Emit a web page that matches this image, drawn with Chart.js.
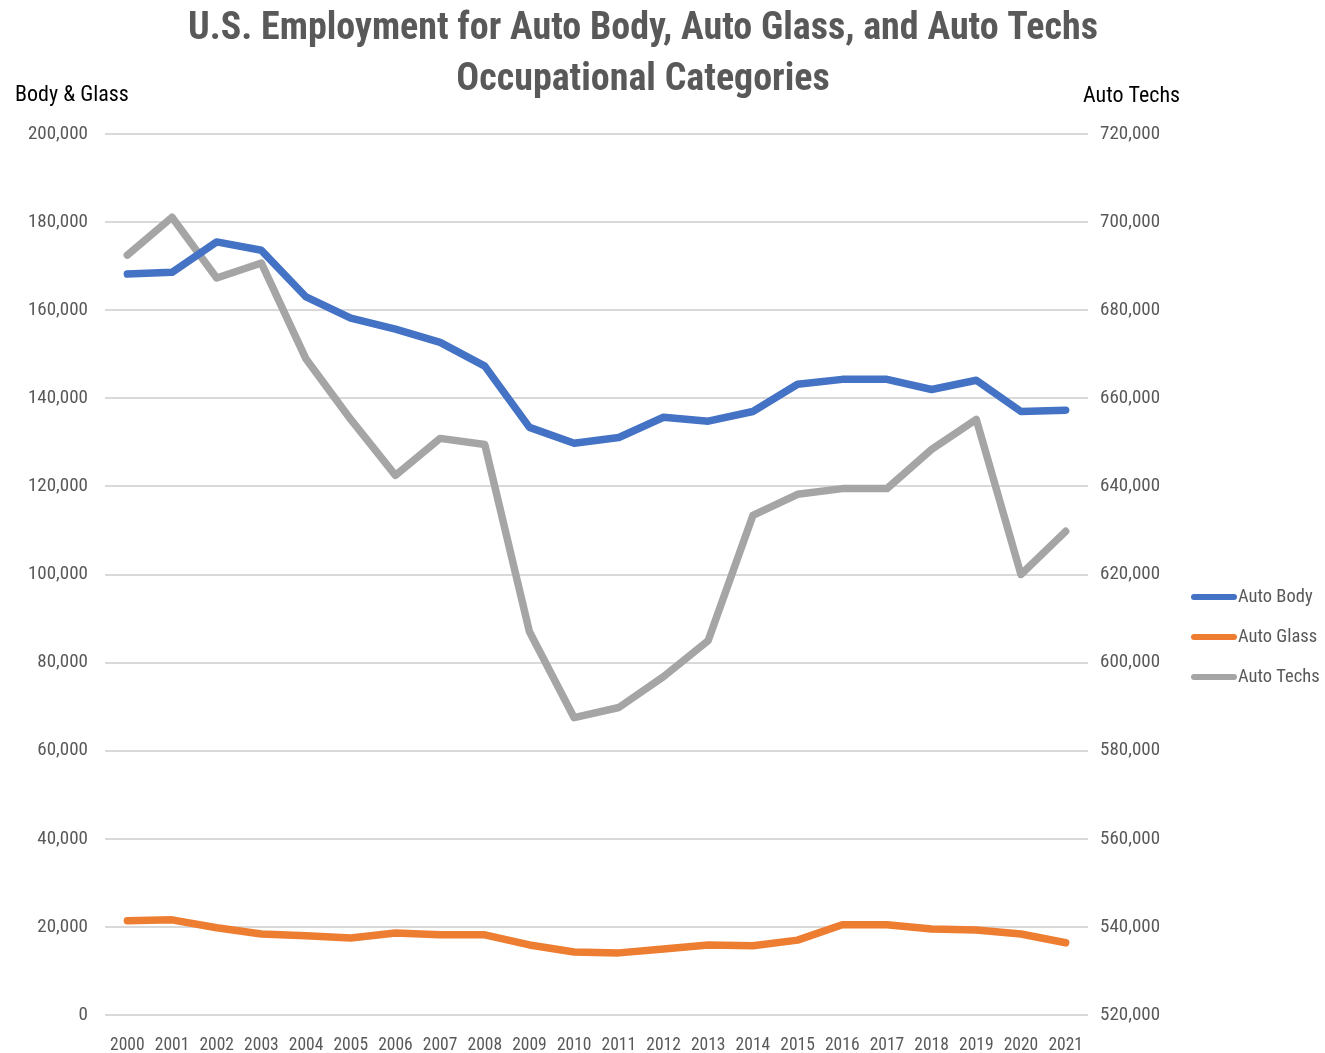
<!DOCTYPE html>
<html>
<head>
<meta charset="utf-8">
<script src="https://cdn.jsdelivr.net/npm/chart.js@4/dist/chart.umd.min.js"></script>
<style>
  html, body { margin: 0; padding: 0; background: #fff; }
  #wrap { width: 1325px; height: 1053px; position: relative; }
</style>
</head>
<body>
<div id="wrap"><canvas id="chart"></canvas></div>
<script>
const years = ['2000','2001','2002','2003','2004','2005','2006','2007','2008','2009','2010',
  '2011','2012','2013','2014','2015','2016','2017','2018','2019','2020','2021'];

// left axis (Body & Glass)
const autoBody = [168200, 168600, 175500, 173600, 163000, 158200, 155700, 152700, 147300, 133400, 129800,
  131100, 135700, 134800, 137000, 143200, 144300, 144300, 142000, 144100, 137000, 137300];
const autoGlass = [21400, 21600, 19800, 18400, 18000, 17500, 18600, 18200, 18200, 15900, 14300,
  14100, 15000, 15900, 15700, 17000, 20500, 20500, 19500, 19300, 18400, 16400];

// right axis (Auto Techs)
const autoTechs = [692500, 701100, 687300, 690700, 668900, 655200, 642500, 650900, 649500, 607000, 587500,
  589800, 596800, 605000, 633400, 638200, 639500, 639500, 648400, 655200, 620000, 629800];

const titleLines = ['U.S. Employment for Auto Body, Auto Glass, and Auto Techs', 'Occupational Categories'];
const leftTitle = 'Body & Glass';
const rightTitle = 'Auto Techs';

const FONT = '"Liberation Sans Narrow", "Roboto Condensed", "Open Sans", sans-serif';
const GREY_TEXT = '#595959';

const fmt = v => v.toLocaleString('en-US');

// title, axis captions and legend drawn on top
const decorations = {
  id: 'decorations',
  afterDraw(chart) {
    const ctx = chart.ctx;
    ctx.save();
    ctx.fillStyle = GREY_TEXT;
    ctx.font = 'bold 38px ' + FONT;
    ctx.textAlign = 'center';
    ctx.textBaseline = 'middle';
    ctx.fillText(titleLines[0], 643, 29);
    ctx.fillText(titleLines[1], 643, 80);

    ctx.fillStyle = '#000';
    ctx.font = '22px ' + FONT;
    ctx.textAlign = 'left';
    ctx.fillText(leftTitle, 15, 95);
    ctx.fillText(rightTitle, 1083, 96);

    // legend
    ctx.font = '18.5px ' + FONT;
    chart.data.datasets.forEach((ds, i) => {
      const y = 597 + i * 40;
      ctx.strokeStyle = ds.borderColor;
      ctx.lineWidth = 6;
      ctx.lineCap = 'round';
      ctx.beginPath();
      ctx.moveTo(1194, y);
      ctx.lineTo(1234, y);
      ctx.stroke();
      ctx.fillStyle = GREY_TEXT;
      ctx.fillText(ds.label, 1238, y);
    });
    ctx.restore();
  }
};

const lineStyle = {
  borderWidth: 7.5,
  pointRadius: 0,
  tension: 0,
  borderCapStyle: 'round',
  borderJoinStyle: 'round',
  fill: false
};

new Chart(document.getElementById('chart'), {
  type: 'line',
  data: {
    labels: years,
    datasets: [
      { label: 'Auto Body', data: autoBody, borderColor: '#4472C4', yAxisID: 'y', ...lineStyle },
      { label: 'Auto Glass', data: autoGlass, borderColor: '#ED7D31', yAxisID: 'y', ...lineStyle },
      { label: 'Auto Techs', data: autoTechs, borderColor: '#A5A5A5', yAxisID: 'y2', ...lineStyle }
    ]
  },
  options: {
    responsive: true,
    maintainAspectRatio: false,
    animation: false,
    layout: { padding: { top: 134, left: 0, right: 137, bottom: 0 } },
    plugins: { legend: { display: false }, title: { display: false }, tooltip: { enabled: false } },
    scales: {
      x: {
        offset: true,
        grid: { display: false },
        border: { display: false },
        ticks: { color: GREY_TEXT, font: { family: FONT, size: 17.5 }, padding: 12, maxRotation: 0, autoSkip: false },
        afterFit: s => { s.height = 38; }
      },
      y: {
        position: 'left',
        min: 0, max: 200000,
        border: { display: false },
        grid: { color: '#d9d9d9', lineWidth: 2, drawTicks: false },
        ticks: { stepSize: 20000, color: GREY_TEXT, font: { family: FONT, size: 19 }, padding: 17, callback: fmt },
        afterFit: s => { s.width = 105; }
      },
      y2: {
        position: 'right',
        min: 520000, max: 720000,
        border: { display: false },
        grid: { drawOnChartArea: false, drawTicks: false },
        ticks: { stepSize: 20000, color: GREY_TEXT, font: { family: FONT, size: 19 }, padding: 12, callback: fmt },
        afterFit: s => { s.width = 100; }
      }
    }
  },
  plugins: [decorations]
});
</script>
</body>
</html>
